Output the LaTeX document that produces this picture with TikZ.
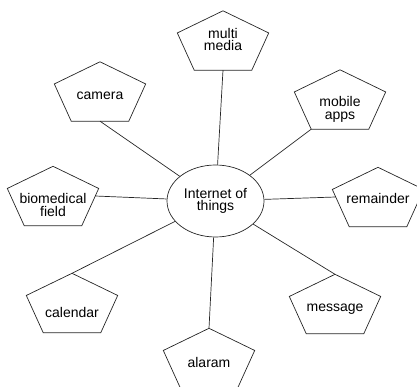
\documentclass[tikz,border=0pt]{standalone}
\usepackage{fontspec}
\setmainfont{Liberation Sans}
\usetikzlibrary{shapes.geometric, positioning, calc}

\tikzset{
  pent/.style = {minimum width=91pt, minimum height=59pt, inner sep=0pt},
  hub/.style  = {ellipse, draw=black!85, line width=0.7pt, minimum width=97pt,
                 minimum height=72pt, inner sep=0pt, align=center,
                 font=\fontsize{14}{12.5}\selectfont},
  txt/.style  = {font=\fontsize{14}{12.5}\selectfont, align=center},
  link/.style = {draw=black!85, line width=0.7pt}
}

% outline of a flat pentagon drawn in the box of a node
\newcommand{\pentagonat}[1]{%
  \draw [link] (#1.north)
    -- ($(#1.north east)!0.373!(#1.south east)$)
    -- ($(#1.south)!0.63!(#1.south east)$)
    -- ($(#1.south)!0.63!(#1.south west)$)
    -- ($(#1.north west)!0.373!(#1.south west)$)
    -- cycle;}

\begin{document}
\begin{tikzpicture} [x=1pt, y=-1pt, on grid]

\useasboundingbox (0,0) rectangle (417,387);
\clip (0,0) rectangle (417,387);

\node (iot) [hub] at (215.5,201) {Internet of\\things};

\node (mm)   [pent, above right = 160.5pt and 7.5pt of iot,
              label={[txt, yshift=1pt]center:{multi\\media}}] {};
\node (cam)  [pent, above left = 109.5pt and 115.5pt of iot,
              label={[txt, yshift=-4pt]center:camera}] {};
\node (apps) [pent, above right = 101.5pt and 124.5pt of iot,
              label={[txt, yshift=-10pt]center:{mobile\\apps}}] {};
\node (rem)  [pent, above right = 4pt and 162.5pt of iot,
              label={[txt, yshift=-1pt]center:remainder}] {};
\node (bio)  [pent, above left = 5pt and 162.5pt of iot,
              label={[txt, yshift=-9pt]center:{biomedical\\field}}] {};
\node (cal)  [pent, below left = 102pt and 143.5pt of iot,
              label={[txt, yshift=-9pt]center:calendar}] {};
\node (msg)  [pent, below right = 103pt and 119.5pt of iot,
              label={[txt, yshift=-5pt]center:message}] {};
\node (alm)  [pent, below left = 157pt and 6.5pt of iot,
              label={[txt, yshift=-4pt]center:alaram}] {};

\foreach \n in {mm, cam, apps, rem, bio, cal, msg, alm}
  \pentagonat{\n};

\path [link] (mm.south) edge (iot);
\path [link] (cam.south) edge (iot);
\path [link] ($(apps.south)!0.63!(apps.south west)$) edge (iot);
\path [link] ($(rem.west)+(3.4,0)$) edge (iot);
\path [link] ($(bio.east)+(-3.4,0)$) edge (iot);
\path [link] (cal.north) edge (iot);
\path [link] (msg.north) edge (iot);
\path [link] (alm.north) edge (iot);
\end{tikzpicture}
\end{document}
